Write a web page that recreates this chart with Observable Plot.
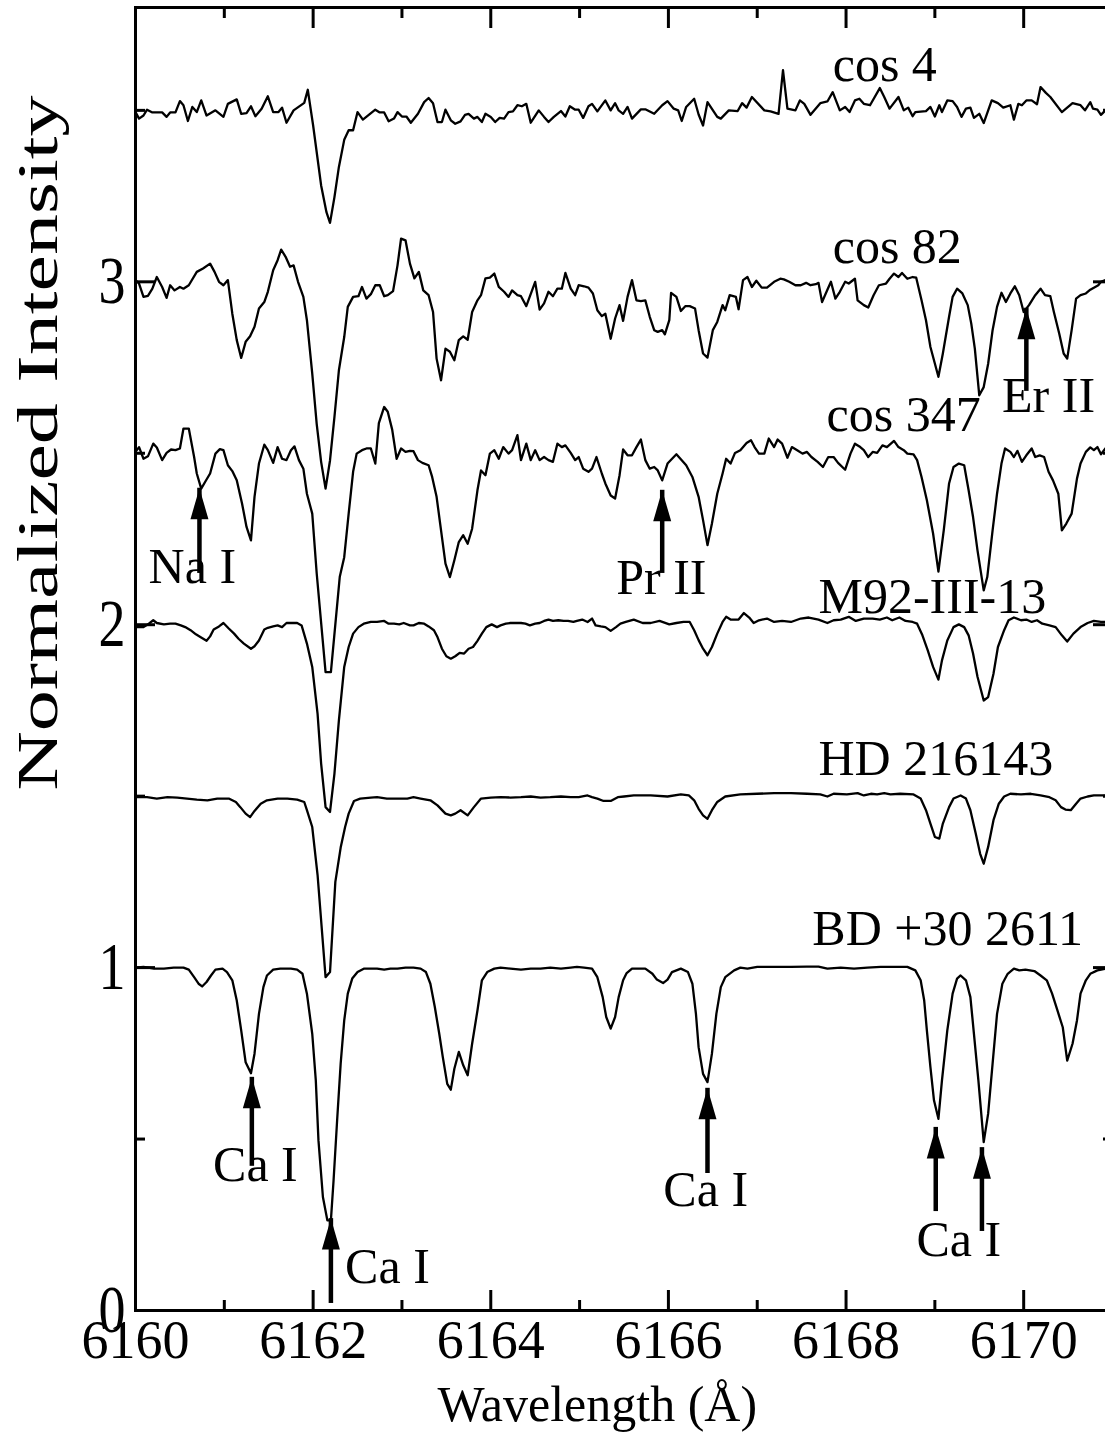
<!DOCTYPE html>
<html><head><meta charset="utf-8">
<script src="https://cdn.jsdelivr.net/npm/d3@7"></script>
<script src="https://cdn.jsdelivr.net/npm/@observablehq/plot@0.6"></script>
<style>
html,body{margin:0;padding:0;background:#fff;overflow:hidden;}
#chart svg{max-width:none;display:block;}
</style></head><body><div id="chart"></div>
<script>
// ---- spectra: [wavelength (Å), normalized flux] ----
const cos4 = [[6160.00,0.995],[6160.04,0.976],[6160.09,0.985],[6160.13,1.002],[6160.19,0.994],[6160.30,0.994],[6160.35,0.981],[6160.39,0.994],[6160.45,0.994],[6160.50,1.027],[6160.54,1.015],[6160.59,0.969],[6160.64,1.010],[6160.69,0.995],[6160.74,1.029],[6160.80,0.985],[6160.90,1.000],[6160.99,0.981],[6161.04,1.019],[6161.14,1.032],[6161.19,0.990],[6161.25,0.992],[6161.30,1.012],[6161.35,0.983],[6161.42,1.005],[6161.49,1.041],[6161.55,0.995],[6161.61,0.995],[6161.65,1.008],[6161.70,0.964],[6161.78,1.000],[6161.90,1.022],[6161.94,1.060],[6162.00,0.956],[6162.09,0.781],[6162.15,0.703],[6162.19,0.672],[6162.24,0.747],[6162.29,0.835],[6162.35,0.914],[6162.40,0.942],[6162.45,0.942],[6162.50,0.995],[6162.56,0.973],[6162.70,1.002],[6162.75,0.994],[6162.80,0.994],[6162.85,0.968],[6162.91,0.976],[6162.95,0.995],[6163.00,0.982],[6163.05,0.982],[6163.10,0.964],[6163.18,0.990],[6163.25,1.024],[6163.30,1.036],[6163.35,1.021],[6163.40,0.966],[6163.45,0.966],[6163.49,1.002],[6163.55,0.971],[6163.60,0.961],[6163.66,0.968],[6163.71,0.987],[6163.75,0.990],[6163.81,0.976],[6163.85,0.981],[6163.90,0.966],[6163.94,0.990],[6164.00,0.981],[6164.05,0.966],[6164.10,0.978],[6164.15,0.976],[6164.20,0.995],[6164.25,0.997],[6164.30,1.015],[6164.35,1.012],[6164.40,1.019],[6164.45,0.964],[6164.54,1.000],[6164.60,0.981],[6164.65,0.966],[6164.71,0.981],[6164.79,0.998],[6164.84,0.982],[6164.89,1.012],[6164.95,1.002],[6164.99,1.002],[6165.04,0.978],[6165.10,1.012],[6165.14,1.019],[6165.20,0.997],[6165.29,1.029],[6165.35,1.000],[6165.40,1.021],[6165.44,1.000],[6165.49,0.990],[6165.54,1.010],[6165.59,0.976],[6165.69,1.003],[6165.74,1.003],[6165.84,0.990],[6165.93,1.015],[6165.99,1.027],[6166.06,1.005],[6166.11,1.000],[6166.15,0.969],[6166.20,1.010],[6166.29,1.034],[6166.34,0.988],[6166.39,0.956],[6166.44,1.024],[6166.55,0.981],[6166.59,0.976],[6166.68,1.000],[6166.78,0.998],[6166.83,1.021],[6166.88,1.008],[6166.94,1.039],[6167.08,1.000],[6167.15,0.997],[6167.24,0.990],[6167.29,1.117],[6167.34,1.005],[6167.43,1.000],[6167.48,1.029],[6167.53,1.019],[6167.60,0.987],[6167.71,1.021],[6167.79,1.026],[6167.85,1.053],[6167.93,1.000],[6167.99,1.010],[6168.04,0.995],[6168.10,1.029],[6168.15,1.034],[6168.20,1.019],[6168.27,1.015],[6168.38,1.065],[6168.43,1.039],[6168.49,1.005],[6168.59,1.039],[6168.65,1.000],[6168.70,1.008],[6168.75,0.983],[6168.78,0.995],[6168.90,0.998],[6168.95,1.010],[6169.00,0.982],[6169.05,1.015],[6169.08,0.995],[6169.14,1.029],[6169.20,1.027],[6169.25,1.010],[6169.30,0.981],[6169.35,1.005],[6169.40,1.008],[6169.44,0.978],[6169.50,0.990],[6169.55,0.963],[6169.64,1.029],[6169.71,1.021],[6169.77,1.008],[6169.85,1.015],[6169.89,0.973],[6169.94,1.019],[6169.98,1.015],[6170.03,1.029],[6170.09,1.029],[6170.15,1.018],[6170.19,1.068],[6170.25,1.051],[6170.30,1.039],[6170.43,0.995],[6170.55,1.021],[6170.64,1.015],[6170.69,1.000],[6170.75,1.024],[6170.78,1.005],[6170.83,1.002],[6170.87,0.987],[6170.92,1.000],[6171.00,0.995]];

const cos82 = [[6160.00,1.005],[6160.04,0.995],[6160.09,0.956],[6160.14,0.959],[6160.19,0.980],[6160.24,1.014],[6160.30,0.985],[6160.35,0.953],[6160.39,0.990],[6160.44,0.975],[6160.50,0.985],[6160.54,0.980],[6160.60,0.990],[6160.69,1.029],[6160.76,1.039],[6160.84,1.053],[6160.89,1.029],[6160.94,1.000],[6160.99,0.990],[6161.04,1.005],[6161.09,0.907],[6161.14,0.830],[6161.19,0.778],[6161.24,0.825],[6161.29,0.841],[6161.34,0.869],[6161.39,0.922],[6161.45,0.941],[6161.49,0.971],[6161.55,1.034],[6161.60,1.063],[6161.64,1.094],[6161.69,1.073],[6161.74,1.044],[6161.78,1.048],[6161.83,1.000],[6161.89,0.956],[6161.93,0.888],[6161.99,0.732],[6162.04,0.586],[6162.09,0.475],[6162.14,0.397],[6162.19,0.479],[6162.24,0.606],[6162.29,0.742],[6162.35,0.839],[6162.39,0.927],[6162.45,0.956],[6162.51,0.958],[6162.55,0.985],[6162.60,0.951],[6162.65,0.964],[6162.70,0.990],[6162.75,0.990],[6162.80,0.958],[6162.84,0.961],[6162.90,0.973],[6162.95,1.048],[6162.99,1.126],[6163.04,1.121],[6163.09,1.053],[6163.14,1.010],[6163.19,1.029],[6163.24,0.975],[6163.30,0.961],[6163.35,0.912],[6163.39,0.776],[6163.44,0.713],[6163.49,0.805],[6163.54,0.796],[6163.59,0.771],[6163.64,0.830],[6163.69,0.841],[6163.74,0.831],[6163.79,0.912],[6163.85,0.946],[6163.89,0.961],[6163.94,1.010],[6163.99,1.012],[6164.04,1.024],[6164.09,0.985],[6164.15,0.971],[6164.20,0.956],[6164.24,0.975],[6164.30,0.961],[6164.34,0.958],[6164.40,0.929],[6164.50,1.000],[6164.55,0.919],[6164.60,0.937],[6164.65,0.971],[6164.70,0.958],[6164.75,0.980],[6164.80,0.980],[6164.84,1.026],[6164.90,0.980],[6164.95,0.961],[6164.99,0.990],[6165.05,0.987],[6165.10,0.983],[6165.15,0.966],[6165.20,0.917],[6165.25,0.900],[6165.29,0.907],[6165.35,0.834],[6165.40,0.893],[6165.45,0.932],[6165.49,0.886],[6165.54,0.956],[6165.59,1.005],[6165.64,0.946],[6165.69,0.944],[6165.74,0.946],[6165.79,0.898],[6165.84,0.859],[6165.88,0.854],[6165.93,0.859],[6165.96,0.847],[6166.01,0.888],[6166.03,0.968],[6166.09,0.956],[6166.14,0.915],[6166.19,0.929],[6166.24,0.929],[6166.30,0.922],[6166.34,0.859],[6166.39,0.791],[6166.44,0.779],[6166.50,0.859],[6166.55,0.883],[6166.61,0.932],[6166.64,0.917],[6166.69,0.961],[6166.76,0.956],[6166.79,0.920],[6166.84,1.005],[6166.89,1.014],[6166.94,0.985],[6166.99,1.003],[6167.05,0.983],[6167.11,0.983],[6167.19,1.000],[6167.26,1.009],[6167.30,1.007],[6167.36,1.000],[6167.43,0.990],[6167.49,0.990],[6167.55,0.997],[6167.60,0.990],[6167.66,0.993],[6167.69,0.997],[6167.73,0.941],[6167.79,0.977],[6167.83,1.000],[6167.88,0.951],[6167.93,0.971],[6167.99,1.000],[6168.03,0.995],[6168.10,1.009],[6168.13,0.946],[6168.20,0.932],[6168.25,0.925],[6168.31,0.961],[6168.37,0.990],[6168.45,0.995],[6168.49,1.009],[6168.54,1.024],[6168.59,1.014],[6168.63,1.026],[6168.69,1.009],[6168.75,1.014],[6168.79,1.012],[6168.85,0.946],[6168.90,0.888],[6168.95,0.810],[6169.04,0.723],[6169.09,0.791],[6169.16,0.898],[6169.20,0.956],[6169.25,0.980],[6169.31,0.966],[6169.37,0.932],[6169.41,0.878],[6169.45,0.805],[6169.50,0.669],[6169.55,0.693],[6169.60,0.761],[6169.65,0.859],[6169.70,0.927],[6169.75,0.968],[6169.80,0.941],[6169.85,0.966],[6169.90,0.987],[6169.95,0.961],[6170.00,0.912],[6170.06,0.932],[6170.13,0.961],[6170.19,0.980],[6170.24,0.961],[6170.30,0.958],[6170.34,0.912],[6170.40,0.849],[6170.45,0.791],[6170.49,0.776],[6170.54,0.859],[6170.59,0.951],[6170.64,0.961],[6170.70,0.966],[6170.75,0.977],[6170.79,0.983],[6170.84,0.990],[6170.87,1.000],[6170.92,1.005],[6171.00,1.010]];

const cos347 = [[6160.00,1.004],[6160.04,1.018],[6160.09,0.984],[6160.14,0.991],[6160.20,1.028],[6160.24,1.017],[6160.30,0.980],[6160.35,1.001],[6160.40,1.011],[6160.45,1.009],[6160.50,1.014],[6160.54,1.072],[6160.60,1.072],[6160.66,0.989],[6160.69,0.941],[6160.74,0.897],[6160.79,0.919],[6160.84,0.941],[6160.90,0.999],[6160.95,1.012],[6160.99,1.009],[6161.04,0.965],[6161.09,0.948],[6161.14,0.921],[6161.20,0.853],[6161.25,0.785],[6161.30,0.746],[6161.34,0.873],[6161.39,0.970],[6161.45,1.025],[6161.49,1.009],[6161.55,0.972],[6161.60,1.018],[6161.65,0.984],[6161.70,0.980],[6161.75,1.009],[6161.79,1.020],[6161.84,0.980],[6161.89,0.955],[6161.93,0.882],[6161.99,0.824],[6162.04,0.650],[6162.14,0.362],[6162.20,0.362],[6162.30,0.640],[6162.35,0.697],[6162.40,0.824],[6162.45,0.946],[6162.49,0.999],[6162.55,1.009],[6162.60,1.014],[6162.65,1.014],[6162.70,0.970],[6162.74,1.088],[6162.80,1.135],[6162.84,1.121],[6162.89,1.069],[6162.94,0.984],[6162.99,1.014],[6163.04,1.004],[6163.09,1.007],[6163.13,1.006],[6163.18,0.980],[6163.23,0.972],[6163.30,0.965],[6163.34,0.931],[6163.39,0.873],[6163.43,0.795],[6163.49,0.678],[6163.54,0.639],[6163.59,0.688],[6163.64,0.741],[6163.69,0.761],[6163.74,0.736],[6163.79,0.780],[6163.85,0.892],[6163.89,0.950],[6163.94,0.936],[6163.99,0.999],[6164.04,1.009],[6164.09,0.984],[6164.14,1.018],[6164.20,0.999],[6164.24,1.009],[6164.30,1.053],[6164.34,0.980],[6164.40,1.028],[6164.45,0.980],[6164.50,1.009],[6164.55,0.980],[6164.60,0.989],[6164.65,0.980],[6164.70,0.975],[6164.75,1.028],[6164.80,1.018],[6164.84,1.023],[6164.90,1.001],[6164.95,0.980],[6164.99,0.989],[6165.04,0.955],[6165.10,0.946],[6165.14,0.955],[6165.19,0.989],[6165.25,0.941],[6165.29,0.912],[6165.35,0.877],[6165.40,0.868],[6165.45,0.936],[6165.49,1.011],[6165.54,0.994],[6165.59,0.994],[6165.64,1.018],[6165.69,1.040],[6165.74,0.980],[6165.79,0.955],[6165.84,0.960],[6165.88,0.950],[6165.93,0.921],[6165.99,0.970],[6166.09,0.997],[6166.20,0.965],[6166.27,0.931],[6166.34,0.873],[6166.39,0.805],[6166.44,0.732],[6166.49,0.795],[6166.55,0.882],[6166.61,0.941],[6166.65,0.984],[6166.70,0.970],[6166.75,1.001],[6166.81,1.009],[6166.88,1.030],[6166.93,1.038],[6166.97,1.018],[6167.02,0.999],[6167.08,0.999],[6167.13,1.043],[6167.19,1.018],[6167.23,1.040],[6167.28,1.028],[6167.34,0.987],[6167.39,1.018],[6167.45,1.009],[6167.51,0.999],[6167.56,1.004],[6167.61,0.989],[6167.68,0.975],[6167.74,0.960],[6167.80,0.989],[6167.86,0.989],[6167.91,0.972],[6167.99,0.952],[6168.05,0.999],[6168.10,1.028],[6168.16,1.018],[6168.20,1.009],[6168.25,0.989],[6168.30,1.004],[6168.35,1.001],[6168.41,1.023],[6168.46,1.018],[6168.54,1.036],[6168.59,1.018],[6168.65,1.009],[6168.69,0.999],[6168.76,0.997],[6168.80,0.980],[6168.85,0.931],[6168.91,0.863],[6168.98,0.766],[6169.04,0.655],[6169.10,0.775],[6169.16,0.912],[6169.21,0.960],[6169.27,0.970],[6169.33,0.965],[6169.38,0.892],[6169.43,0.814],[6169.48,0.717],[6169.55,0.600],[6169.59,0.639],[6169.65,0.775],[6169.70,0.882],[6169.75,0.970],[6169.79,1.014],[6169.85,1.004],[6169.89,0.989],[6169.93,1.007],[6169.98,0.975],[6170.03,0.994],[6170.09,1.014],[6170.13,0.989],[6170.18,0.994],[6170.23,0.989],[6170.28,0.946],[6170.33,0.921],[6170.39,0.882],[6170.43,0.775],[6170.48,0.795],[6170.54,0.824],[6170.60,0.926],[6170.64,0.970],[6170.70,1.004],[6170.75,1.017],[6170.79,1.009],[6170.83,1.018],[6170.87,0.997],[6170.92,1.014],[6171.00,1.005]];

const m92 = [[6160.00,0.993],[6160.09,0.993],[6160.15,1.003],[6160.20,1.013],[6160.24,1.005],[6160.32,1.001],[6160.39,1.003],[6160.45,1.003],[6160.51,0.998],[6160.56,0.993],[6160.62,0.984],[6160.68,0.972],[6160.73,0.964],[6160.80,0.953],[6160.84,0.966],[6160.88,0.986],[6160.94,0.995],[6160.99,1.005],[6161.05,0.989],[6161.11,0.974],[6161.16,0.959],[6161.22,0.945],[6161.30,0.930],[6161.34,0.937],[6161.39,0.954],[6161.45,0.986],[6161.49,0.991],[6161.55,0.995],[6161.60,0.998],[6161.65,0.993],[6161.70,1.005],[6161.76,1.005],[6161.82,1.005],[6161.87,0.998],[6161.93,0.945],[6161.99,0.877],[6162.05,0.740],[6162.09,0.595],[6162.14,0.468],[6162.19,0.454],[6162.24,0.566],[6162.29,0.721],[6162.35,0.877],[6162.40,0.935],[6162.45,0.974],[6162.51,0.993],[6162.57,1.003],[6162.65,1.008],[6162.72,1.008],[6162.80,1.011],[6162.85,1.003],[6162.91,1.003],[6162.97,1.001],[6163.02,1.005],[6163.09,0.998],[6163.13,0.998],[6163.19,1.005],[6163.25,1.003],[6163.30,0.995],[6163.36,0.984],[6163.40,0.964],[6163.45,0.930],[6163.50,0.908],[6163.55,0.901],[6163.60,0.908],[6163.65,0.918],[6163.70,0.916],[6163.75,0.930],[6163.80,0.935],[6163.85,0.953],[6163.90,0.974],[6163.95,0.993],[6164.01,1.001],[6164.07,0.993],[6164.11,0.998],[6164.17,1.003],[6164.22,1.005],[6164.28,1.005],[6164.34,1.005],[6164.39,1.003],[6164.44,0.998],[6164.50,1.003],[6164.55,1.005],[6164.60,1.011],[6164.65,1.015],[6164.70,1.011],[6164.76,1.013],[6164.82,1.011],[6164.87,1.011],[6164.93,1.008],[6164.97,1.011],[6165.03,1.015],[6165.09,1.008],[6165.14,1.018],[6165.18,0.998],[6165.24,0.995],[6165.29,0.993],[6165.35,0.982],[6165.41,0.993],[6165.46,1.003],[6165.52,1.008],[6165.61,1.015],[6165.71,1.005],[6165.80,1.005],[6165.90,1.011],[6166.01,1.001],[6166.09,1.005],[6166.17,1.008],[6166.24,1.008],[6166.29,0.984],[6166.34,0.955],[6166.39,0.930],[6166.44,0.911],[6166.49,0.935],[6166.55,0.974],[6166.61,1.008],[6166.65,1.023],[6166.70,1.015],[6166.79,1.015],[6166.85,1.034],[6166.91,1.021],[6166.96,1.005],[6167.02,1.013],[6167.11,1.018],[6167.19,1.008],[6167.28,1.011],[6167.38,1.008],[6167.49,1.018],[6167.58,1.021],[6167.69,1.015],[6167.79,1.005],[6167.86,1.013],[6167.94,1.015],[6168.03,1.023],[6168.11,1.011],[6168.20,1.018],[6168.30,1.018],[6168.38,1.015],[6168.46,1.021],[6168.52,1.013],[6168.60,1.021],[6168.67,1.011],[6168.75,1.008],[6168.80,1.003],[6168.86,0.969],[6168.92,0.925],[6168.98,0.877],[6169.04,0.840],[6169.08,0.896],[6169.14,0.954],[6169.21,0.993],[6169.27,1.001],[6169.33,0.993],[6169.38,0.969],[6169.43,0.916],[6169.48,0.848],[6169.55,0.779],[6169.60,0.789],[6169.66,0.857],[6169.71,0.935],[6169.78,0.984],[6169.83,1.013],[6169.89,1.021],[6169.97,1.013],[6170.03,1.015],[6170.09,1.008],[6170.15,1.013],[6170.21,1.003],[6170.29,0.998],[6170.36,0.993],[6170.43,0.969],[6170.49,0.951],[6170.56,0.974],[6170.64,0.993],[6170.72,1.005],[6170.79,1.011],[6170.87,1.008],[6170.92,1.008],[6171.00,1.008]];

const hd216143 = [[6160.00,0.997],[6160.13,0.997],[6160.24,0.993],[6160.36,0.997],[6160.47,0.996],[6160.58,0.993],[6160.69,0.990],[6160.81,0.988],[6160.92,0.993],[6161.05,0.993],[6161.13,0.983],[6161.18,0.968],[6161.24,0.949],[6161.29,0.939],[6161.34,0.957],[6161.41,0.978],[6161.48,0.988],[6161.60,0.993],[6161.71,0.993],[6161.82,0.990],[6161.90,0.983],[6161.93,0.959],[6161.99,0.910],[6162.05,0.770],[6162.14,0.472],[6162.19,0.487],[6162.25,0.750],[6162.31,0.850],[6162.36,0.910],[6162.40,0.949],[6162.46,0.986],[6162.53,0.993],[6162.65,0.996],[6162.72,0.997],[6162.83,0.993],[6162.95,0.993],[6163.06,0.993],[6163.13,0.997],[6163.21,0.993],[6163.32,0.988],[6163.40,0.973],[6163.49,0.949],[6163.55,0.944],[6163.60,0.949],[6163.66,0.959],[6163.74,0.944],[6163.81,0.968],[6163.89,0.993],[6164.00,0.996],[6164.11,0.997],[6164.22,0.996],[6164.34,0.997],[6164.45,0.999],[6164.56,0.996],[6164.67,0.997],[6164.79,0.999],[6164.90,0.997],[6164.99,0.997],[6165.09,1.002],[6165.14,0.997],[6165.20,0.993],[6165.27,0.986],[6165.35,0.986],[6165.43,0.997],[6165.50,0.999],[6165.61,1.002],[6165.80,1.002],[6165.99,0.999],[6166.14,1.005],[6166.23,1.002],[6166.29,0.988],[6166.34,0.963],[6166.39,0.944],[6166.44,0.934],[6166.49,0.959],[6166.55,0.983],[6166.64,0.999],[6166.81,1.005],[6167.00,1.007],[6167.19,1.009],[6167.38,1.009],[6167.56,1.007],[6167.71,1.005],[6167.79,0.999],[6167.86,1.007],[6168.01,1.005],[6168.13,1.009],[6168.20,1.002],[6168.28,1.007],[6168.35,1.005],[6168.43,1.009],[6168.50,1.005],[6168.61,1.007],[6168.76,1.005],[6168.84,0.993],[6168.90,0.959],[6168.95,0.920],[6169.00,0.881],[6169.05,0.876],[6169.09,0.920],[6169.16,0.968],[6169.21,0.993],[6169.29,1.002],[6169.35,0.993],[6169.40,0.959],[6169.46,0.891],[6169.51,0.832],[6169.55,0.803],[6169.60,0.852],[6169.66,0.930],[6169.72,0.978],[6169.78,0.999],[6169.85,1.007],[6169.97,1.005],[6170.08,1.007],[6170.19,1.002],[6170.29,0.997],[6170.36,0.988],[6170.42,0.968],[6170.47,0.961],[6170.53,0.959],[6170.59,0.978],[6170.64,0.993],[6170.72,0.999],[6170.79,1.002],[6170.87,1.002],[6171.00,1.002]];

const bd302611 = [[6160.00,1.000],[6160.09,1.002],[6160.21,0.997],[6160.32,0.997],[6160.43,1.000],[6160.54,1.000],[6160.60,0.994],[6160.66,0.972],[6160.71,0.953],[6160.75,0.945],[6160.80,0.958],[6160.85,0.977],[6160.90,0.994],[6160.98,0.997],[6161.03,0.987],[6161.09,0.963],[6161.14,0.904],[6161.19,0.817],[6161.24,0.724],[6161.30,0.692],[6161.34,0.749],[6161.39,0.865],[6161.44,0.943],[6161.48,0.977],[6161.55,0.994],[6161.63,0.997],[6161.75,0.997],[6161.82,0.994],[6161.88,0.982],[6161.93,0.924],[6161.99,0.807],[6162.03,0.671],[6162.06,0.496],[6162.11,0.331],[6162.16,0.263],[6162.20,0.263],[6162.23,0.379],[6162.27,0.554],[6162.31,0.720],[6162.35,0.846],[6162.39,0.924],[6162.44,0.968],[6162.50,0.987],[6162.57,0.997],[6162.65,0.997],[6162.72,0.997],[6162.80,0.994],[6162.87,0.997],[6162.95,0.997],[6163.04,1.000],[6163.13,1.000],[6163.21,0.997],[6163.27,0.987],[6163.32,0.953],[6163.37,0.885],[6163.42,0.807],[6163.46,0.739],[6163.51,0.661],[6163.55,0.644],[6163.59,0.705],[6163.64,0.754],[6163.69,0.715],[6163.74,0.686],[6163.79,0.778],[6163.85,0.875],[6163.90,0.963],[6163.96,0.987],[6164.04,0.997],[6164.11,1.000],[6164.22,0.997],[6164.34,0.994],[6164.45,0.997],[6164.56,0.997],[6164.67,1.000],[6164.79,0.997],[6164.90,1.000],[6164.97,1.002],[6165.05,1.000],[6165.14,0.997],[6165.20,0.972],[6165.26,0.914],[6165.30,0.856],[6165.35,0.822],[6165.40,0.856],[6165.44,0.914],[6165.49,0.963],[6165.53,0.984],[6165.59,0.997],[6165.74,0.997],[6165.82,0.982],[6165.87,0.965],[6165.94,0.955],[6165.99,0.965],[6166.04,0.987],[6166.14,0.997],[6166.22,0.987],[6166.27,0.953],[6166.31,0.865],[6166.34,0.768],[6166.39,0.690],[6166.44,0.666],[6166.49,0.749],[6166.54,0.865],[6166.59,0.943],[6166.64,0.972],[6166.74,0.992],[6166.81,1.000],[6166.89,0.997],[6167.00,1.002],[6167.19,1.002],[6167.38,1.002],[6167.56,1.003],[6167.69,1.003],[6167.79,0.997],[6167.94,1.000],[6168.09,0.997],[6168.24,1.000],[6168.39,1.002],[6168.54,1.002],[6168.69,1.002],[6168.78,0.992],[6168.84,0.963],[6168.88,0.904],[6168.91,0.817],[6168.95,0.710],[6168.99,0.613],[6169.04,0.559],[6169.08,0.671],[6169.14,0.817],[6169.20,0.924],[6169.25,0.968],[6169.29,0.977],[6169.35,0.963],[6169.40,0.914],[6169.44,0.807],[6169.49,0.671],[6169.55,0.491],[6169.60,0.574],[6169.65,0.720],[6169.70,0.865],[6169.76,0.953],[6169.82,0.982],[6169.89,0.997],[6169.95,0.992],[6170.02,0.994],[6170.12,0.990],[6170.19,0.977],[6170.26,0.963],[6170.32,0.924],[6170.38,0.875],[6170.44,0.826],[6170.49,0.729],[6170.55,0.778],[6170.60,0.846],[6170.64,0.924],[6170.70,0.963],[6170.75,0.982],[6170.83,0.992],[6170.92,0.997],[6171.00,0.997]];

// ---- stars, offsets, name labels ----
const starNames = ["cos 4", "cos 82", "cos 347", "M92-III-13", "HD 216143", "BD +30 2611"];
const starOffsets = [2.5, 2.0, 1.5, 1.0, 0.5, 0.0];
const starLabelX = [6167.85, 6167.85, 6167.78, 6167.69, 6167.69, 6167.62];
const starLabelY = [3.585, 3.054, 2.564, 2.033, 1.561, 1.065];

// ---- line identifications ----
const arrowX = [6160.72, 6165.93, 6170.03, 6161.31, 6162.20, 6166.44, 6169.01, 6169.53];
const arrowTip = [2.398, 2.392, 2.923, 0.680, 0.268, 0.648, 0.534, 0.475];
const arrowTail = [2.202, 2.202, 2.733, 0.473, 0.073, 0.452, 0.341, 0.283];
const idLabels = ["Na I", "Pr II", "Er II", "Ca I", "Ca I", "Ca I", "Ca I"];
const idLabelX = [6160.64, 6165.92, 6170.28, 6161.35, 6162.36, 6166.42, 6169.27];
const idLabelY = [2.121, 2.090, 2.620, 0.379, 0.079, 0.306, 0.160];
const idAnchor = ["middle", "middle", "middle", "middle", "start", "middle", "middle"];

// ---- axes ----
const xMajor = [6160, 6162, 6164, 6166, 6168, 6170];
const xMinor = [6161, 6163, 6165, 6167, 6169];
const yMajor = [0, 1, 2, 3];
const yMinor = [0.5, 1.5, 2.5, 3.5];
const xTitle = "Wavelength (Å)";
const yTitle = "Normalized Intensity";
const xTitleAt = 6165.2;
const yTitleAt = 2.53;

// ---- build tables ----
const series = [cos4, cos82, cos347, m92, hd216143, bd302611];
const rows = [];
series.forEach((s, i) => s.forEach(([w, f]) => rows.push({star: starNames[i], w, f: f + starOffsets[i]})));
const starLabels = starNames.map((name, i) => ({name, x: starLabelX[i], y: starLabelY[i]}));
const arrows = arrowX.map((x, i) => ({x, tip: arrowTip[i], tail: arrowTail[i]}));
const ids = idLabels.map((t, i) => ({t, x: idLabelX[i], y: idLabelY[i], a: idAnchor[i]}));

const headSymbol = {draw(ctx) { ctx.moveTo(0, 0); ctx.lineTo(9, 31); ctx.lineTo(-9, 31); ctx.closePath(); }};
const fmt = d => String(d);
const tickOpts = {fill: "none", label: null, strokeWidth: 3};

const chart = Plot.plot({
  width: 1112, height: 1441,
  marginLeft: 135, marginRight: 0, marginTop: 7, marginBottom: 131,
  x: {domain: [6160, 6171]},
  y: {domain: [0, 3.8]},
  style: {fontFamily: "'Liberation Serif', 'Times New Roman', serif", color: "black", background: "white"},
  marks: [
    Plot.line(rows, {x: "w", y: "f", z: "star", stroke: "black", strokeWidth: 2.3}),
    Plot.frame({strokeWidth: 3}),
    Plot.axisX({...tickOpts, ticks: xMajor, anchor: "bottom", tickSize: 20, dy: -20}),
    Plot.axisX({...tickOpts, ticks: xMinor, anchor: "bottom", tickSize: 10, dy: -10}),
    Plot.axisX({...tickOpts, ticks: xMajor, anchor: "top", tickSize: 20, dy: 20}),
    Plot.axisX({...tickOpts, ticks: xMinor, anchor: "top", tickSize: 10, dy: 10}),
    Plot.axisY({...tickOpts, ticks: yMajor, anchor: "left", tickSize: 20, dx: 20}),
    Plot.axisY({...tickOpts, ticks: yMinor, anchor: "left", tickSize: 10, dx: 10}),
    Plot.axisY({...tickOpts, ticks: yMajor, anchor: "right", tickSize: 20, dx: -20}),
    Plot.axisY({...tickOpts, ticks: yMinor, anchor: "right", tickSize: 10, dx: -10}),
    Plot.axisX({ticks: xMajor, anchor: "bottom", tickSize: 0, tickPadding: 9, tickFormat: fmt, fontSize: 54, label: null}),
    Plot.axisY({ticks: yMajor, anchor: "left", tickSize: 0, tickPadding: 10, tickFormat: fmt, fontSize: 54, label: null}),
    Plot.ruleX(arrows, {x: "x", y1: "tail", y2: "tip", strokeWidth: 4.5, insetTop: 18}),
    Plot.dot(arrows, {x: "x", y: "tip", symbol: headSymbol, fill: "black", stroke: "none", r: 10}),
    Plot.text(starLabels, {x: "x", y: "y", text: "name", textAnchor: "start", lineAnchor: "bottom", fontSize: 50, fill: "black"}),
    Plot.text(ids.filter(d => d.a === "middle"), {x: "x", y: "y", text: "t", textAnchor: "middle", lineAnchor: "bottom", fontSize: 50, fill: "black"}),
    Plot.text(ids.filter(d => d.a === "start"), {x: "x", y: "y", text: "t", textAnchor: "start", lineAnchor: "bottom", fontSize: 50, fill: "black"}),
    Plot.text([xTitle], {x: () => xTitleAt, text: d => d, frameAnchor: "bottom", dy: 110, textAnchor: "middle", lineAnchor: "bottom", fontSize: 50, fill: "black"}),
    Plot.text([yTitle], {y: () => yTitleAt, text: d => d, frameAnchor: "left", dx: -97, rotate: -90, textAnchor: "middle", lineAnchor: "middle", fontSize: 58, fill: "black"})
  ]
});

// taller glyphs for the y tick labels, stretched y title (as in the reference)
d3.select(chart).selectAll('g[aria-label="y-axis tick label"] text').each(function() {
  const t = this.getAttribute("transform") || "";
  this.setAttribute("transform", t + " scale(1,1.25)");
});
d3.select(chart).selectAll("text").filter(function() { return this.textContent === yTitle; })
  .attr("textLength", 695).attr("lengthAdjust", "spacingAndGlyphs");

document.getElementById("chart").appendChild(chart);
</script>
</body></html>
